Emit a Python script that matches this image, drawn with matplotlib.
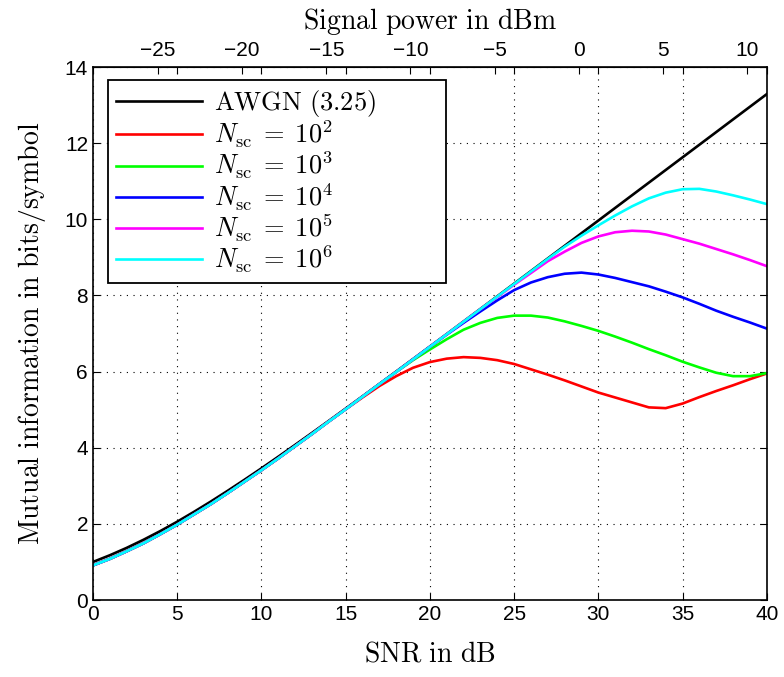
import matplotlib
matplotlib.use('Agg')
import matplotlib.pyplot as plt

plt.rcParams['mathtext.fontset'] = 'cm'
plt.rcParams['font.family'] = ['Liberation Sans', 'DejaVu Sans']

snr = list(range(0, 41))

awgn = [1.000, 1.176, 1.370, 1.583, 1.812, 2.057, 2.317, 2.588, 2.870, 3.161,
        3.459, 3.764, 4.075, 4.389, 4.707, 5.028, 5.351, 5.676, 6.002, 6.330,
        6.658, 6.987, 7.317, 7.647, 7.978, 8.309, 8.640, 8.972, 9.303, 9.635,
        9.967, 10.299, 10.631, 10.963, 11.295, 11.627, 11.959, 12.291, 12.624, 12.956,
        13.288]

# colored curves share the same low-SNR part
low = [0.91, 1.08, 1.28, 1.49, 1.73, 1.98, 2.25, 2.52, 2.81, 3.11,
       3.41, 3.72, 4.04, 4.36, 4.69, 5.01]

nsc_1e2 = low + [5.32, 5.62, 5.88, 6.10, 6.25, 6.34, 6.38, 6.36, 6.30, 6.20,
                 6.06, 5.92, 5.77, 5.61, 5.45, 5.32, 5.19, 5.06, 5.04, 5.16,
                 5.33, 5.49, 5.64, 5.80, 5.95]
nsc_1e3 = low + [5.34, 5.67, 5.99, 6.30, 6.58, 6.85, 7.10, 7.28, 7.41, 7.47,
                 7.47, 7.42, 7.32, 7.20, 7.07, 6.92, 6.76, 6.59, 6.43, 6.26,
                 6.11, 5.97, 5.88, 5.88, 5.96]
nsc_1e4 = low + [5.34, 5.67, 5.99, 6.32, 6.65, 6.97, 7.28, 7.58, 7.87, 8.14,
                 8.34, 8.48, 8.57, 8.60, 8.55, 8.46, 8.35, 8.24, 8.10, 7.95,
                 7.78, 7.60, 7.44, 7.29, 7.13]
nsc_1e5 = low + [5.34, 5.67, 5.99, 6.32, 6.65, 6.98, 7.31, 7.64, 7.96, 8.28,
                 8.59, 8.90, 9.15, 9.38, 9.55, 9.66, 9.70, 9.68, 9.60, 9.48,
                 9.36, 9.22, 9.08, 8.93, 8.77]
nsc_1e6 = low + [5.34, 5.67, 5.99, 6.32, 6.65, 6.98, 7.31, 7.64, 7.97, 8.30,
                 8.63, 8.96, 9.28, 9.57, 9.84, 10.10, 10.34, 10.55, 10.70, 10.79,
                 10.80, 10.73, 10.63, 10.52, 10.40]

labels = [r'$\mathrm{AWGN\ (3.25)}$', r'$N_{\mathrm{sc}}\;=\;10^2$', r'$N_{\mathrm{sc}}\;=\;10^3$',
          r'$N_{\mathrm{sc}}\;=\;10^4$', r'$N_{\mathrm{sc}}\;=\;10^5$', r'$N_{\mathrm{sc}}\;=\;10^6$']
colors = ['k', '#ff0000', '#00ff00', '#0000ff', '#ff00ff', '#00ffff']
series = [awgn, nsc_1e2, nsc_1e3, nsc_1e4, nsc_1e5, nsc_1e6]

dbm_offset = 28.85
top_ticks = [-25, -20, -15, -10, -5, 0, 5, 10]

fig = plt.figure(figsize=(7.84, 6.77), dpi=100)
ax = fig.add_axes([0.1186, 0.1137, 0.8594, 0.7873])

for y, c, lab in zip(series, colors, labels):
    ax.plot(snr, y, color=c, linewidth=1.9, label=lab)

ax.set_xlim(0, 40)
ax.set_ylim(0, 14)
ax.set_xticks(range(0, 41, 5))
ax.set_yticks(range(0, 15, 2))
ax.grid(True, color='k', linestyle=(0, (1, 5)), linewidth=0.8)
ax.tick_params(direction='in', top=True, right=True, labelsize=15, length=5, width=0.8)
for s in ax.spines.values():
    s.set_linewidth(1.2)

ax.set_xlabel(r'$\mathrm{SNR\ in\ dB}$', fontsize=20, labelpad=13)
ax.set_ylabel(r'$\mathrm{Mutual\ information\ in\ bits/symbol}$', fontsize=20, labelpad=12)

sec = ax.secondary_xaxis('top', functions=(lambda x: x - dbm_offset, lambda x: x + dbm_offset))
sec.set_xticks(top_ticks)
sec.set_xticklabels([str(t).replace('-', '\u2212') for t in top_ticks])
sec.tick_params(direction='in', labelsize=15, length=5, width=0.8, pad=5)
sec.set_xlabel(r'$\mathrm{Signal\ power\ in\ dBm}$', fontsize=20, labelpad=9)

leg = ax.legend(loc='upper left', bbox_to_anchor=(0.0223, 0.0, 0.5015, 0.9756), mode='expand',
                fontsize=19, handlelength=3.25, handletextpad=0.45,
                labelspacing=0.0, borderaxespad=0.0, borderpad=0.3, fancybox=False,
                framealpha=1, edgecolor='k')
leg.get_frame().set_linewidth(1.3)

fig.savefig('out.png', dpi=100)
